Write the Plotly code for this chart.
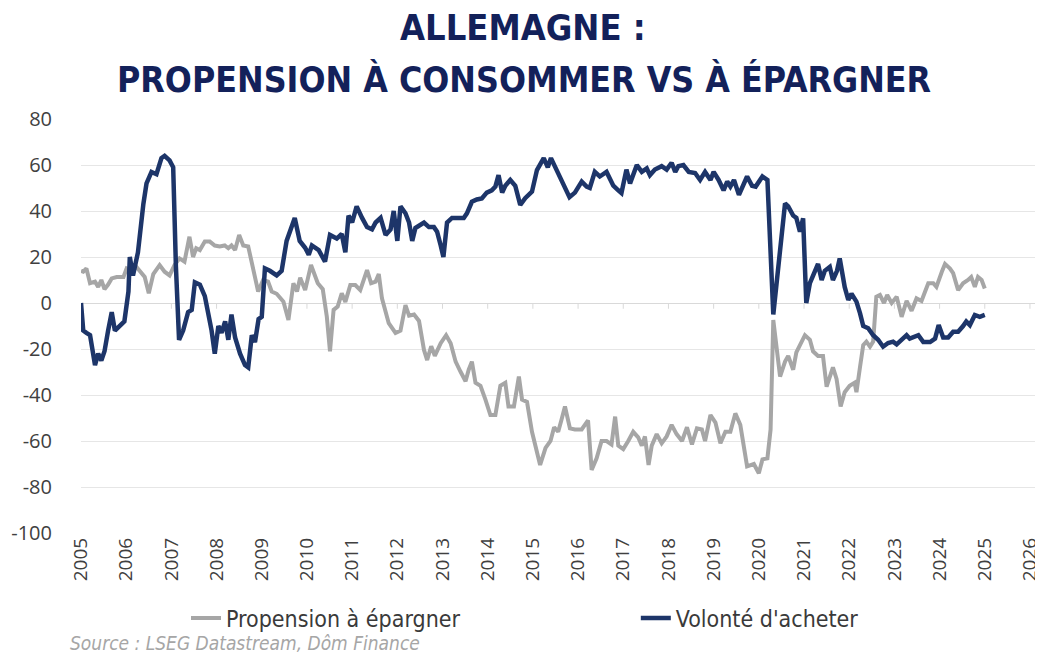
import plotly.graph_objects as go

# ---- Data (decimal years) ----
vol_x = [2005.00, 2005.05, 2005.12, 2005.20, 2005.31, 2005.38, 2005.45, 2005.52, 2005.60, 2005.68,
         2005.75, 2005.85, 2005.96, 2006.05, 2006.08, 2006.15, 2006.26, 2006.38, 2006.45, 2006.56,
         2006.67, 2006.78, 2006.85, 2006.96, 2007.04, 2007.10, 2007.17, 2007.26, 2007.37, 2007.45,
         2007.52, 2007.63, 2007.74, 2007.89, 2007.96, 2008.04, 2008.11, 2008.19, 2008.26, 2008.33,
         2008.41, 2008.52, 2008.63, 2008.70, 2008.78, 2008.85, 2008.93, 2009.00, 2009.07, 2009.18,
         2009.33, 2009.44, 2009.55, 2009.73, 2009.84, 2009.96, 2010.04, 2010.11, 2010.26, 2010.40,
         2010.51, 2010.66, 2010.77, 2010.85, 2010.92, 2011.00, 2011.10, 2011.22, 2011.33, 2011.44,
         2011.52, 2011.63, 2011.74, 2011.85, 2011.92, 2012.00, 2012.07, 2012.18, 2012.26, 2012.33,
         2012.40, 2012.59, 2012.70, 2012.81, 2012.88, 2012.96, 2013.02, 2013.10, 2013.21, 2013.32,
         2013.47, 2013.54, 2013.65, 2013.76, 2013.87, 2013.98, 2014.09, 2014.17, 2014.24, 2014.32,
         2014.39, 2014.50, 2014.61, 2014.72, 2014.83, 2014.98, 2015.09, 2015.24, 2015.33, 2015.40,
         2015.52, 2015.67, 2015.81, 2015.93, 2016.08, 2016.19, 2016.26, 2016.37, 2016.48, 2016.63,
         2016.78, 2016.89, 2016.96, 2017.07, 2017.15, 2017.30, 2017.41, 2017.52, 2017.59, 2017.70,
         2017.85, 2017.96, 2018.07, 2018.15, 2018.22, 2018.33, 2018.45, 2018.59, 2018.70, 2018.81,
         2018.93, 2019.00, 2019.11, 2019.22, 2019.30, 2019.37, 2019.45, 2019.56, 2019.63, 2019.74,
         2019.85, 2019.93, 2020.08, 2020.19, 2020.32, 2020.58, 2020.65, 2020.76, 2020.83, 2020.91,
         2020.98, 2021.05, 2021.13, 2021.24, 2021.31, 2021.39, 2021.46, 2021.57, 2021.64, 2021.73,
         2021.79, 2021.90, 2021.98, 2022.05, 2022.16, 2022.24, 2022.31, 2022.42, 2022.53, 2022.64,
         2022.75, 2022.86, 2022.97, 2023.05, 2023.16, 2023.27, 2023.34, 2023.42, 2023.53, 2023.64,
         2023.79, 2023.90, 2023.98, 2024.08, 2024.19, 2024.30, 2024.41, 2024.52, 2024.59, 2024.67,
         2024.78, 2024.89, 2025.00]
vol_y = [0, -12, -13, -14, -27, -22, -25, -21, -12, -4,
         -12, -10, -8, 5, 20, 12, 22, 43, 52, 57,
         56, 63, 64, 62, 59, 16, -16, -12, -4, -3,
         9, 8, 3, -12, -22, -10, -13, -8, -16, -5,
         -15, -22, -27, -28, -14, -17, -7, -6, 15, 14,
         12, 14, 27, 37, 27, 24, 21, 25, 23, 18,
         29.6, 28, 30, 22, 38, 35, 42, 37, 33, 32,
         35, 37, 29.6, 32, 40, 27, 42, 39, 35, 27,
         32.6, 35, 33, 33, 31, 25, 20, 35, 37, 37,
         37, 39, 44, 45, 45.5, 48, 49, 50.6, 55.6, 48,
         51, 53.5, 51, 42.6, 45.6, 48.4, 57.8, 63, 59, 63,
         58, 52, 46, 48, 52.8, 50.6, 50, 57, 55, 57,
         51, 49, 47.8, 58, 52, 60, 57, 58.5, 55.6, 58,
         59.5, 58, 61, 57, 59.5, 60, 57, 56.5, 53.5, 57,
         53.5, 57, 53.5, 49, 52.8, 50.6, 53.5, 47, 50, 55,
         51, 50.6, 55, 53.5, -5, 43.3, 42, 38, 37, 31,
         36.8, 0, 8.6, 14.3, 17, 10, 14, 15.7, 10, 14,
         19.4, 7, 1.3, 4, 0.6, -4.5, -10, -11, -14, -16,
         -19, -17.4, -16.8, -18, -16, -14, -15.5, -15, -14, -17,
         -17, -15.5, -9.6, -15, -15, -12.5, -12.5, -10, -8, -9.6,
         -5.2, -6, -5.2]

epa_x = [2005.00, 2005.05, 2005.12, 2005.20, 2005.31, 2005.38, 2005.45, 2005.52, 2005.60, 2005.68,
         2005.79, 2005.94, 2006.01, 2006.08, 2006.19, 2006.30, 2006.41, 2006.50, 2006.60, 2006.74,
         2006.85, 2006.96, 2007.07, 2007.18, 2007.29, 2007.40, 2007.48, 2007.55, 2007.63, 2007.74,
         2007.85, 2007.96, 2008.07, 2008.18, 2008.26, 2008.33, 2008.41, 2008.50, 2008.59, 2008.70,
         2008.81, 2008.92, 2009.03, 2009.14, 2009.22, 2009.33, 2009.48, 2009.59, 2009.70, 2009.78,
         2009.85, 2009.96, 2010.09, 2010.24, 2010.35, 2010.44, 2010.51, 2010.59, 2010.68, 2010.77,
         2010.85, 2010.96, 2011.07, 2011.18, 2011.33, 2011.42, 2011.52, 2011.59, 2011.66, 2011.81,
         2011.96, 2012.07, 2012.18, 2012.26, 2012.37, 2012.48, 2012.59, 2012.66, 2012.75, 2012.83,
         2012.96, 2013.08, 2013.18, 2013.29, 2013.40, 2013.51, 2013.58, 2013.65, 2013.73, 2013.84,
         2013.95, 2014.06, 2014.17, 2014.28, 2014.39, 2014.46, 2014.58, 2014.69, 2014.76, 2014.87,
         2014.98, 2015.09, 2015.16, 2015.28, 2015.39, 2015.47, 2015.56, 2015.63, 2015.71, 2015.82,
         2015.93, 2016.08, 2016.22, 2016.30, 2016.41, 2016.52, 2016.63, 2016.74, 2016.82, 2016.89,
         2017.00, 2017.11, 2017.22, 2017.33, 2017.41, 2017.48, 2017.56, 2017.63, 2017.74, 2017.85,
         2017.96, 2018.07, 2018.18, 2018.30, 2018.41, 2018.52, 2018.63, 2018.74, 2018.81, 2018.93,
         2019.04, 2019.15, 2019.26, 2019.37, 2019.48, 2019.59, 2019.74, 2019.89, 2020.00, 2020.08,
         2020.19, 2020.26, 2020.32, 2020.47, 2020.58, 2020.65, 2020.76, 2020.83, 2020.94, 2021.02,
         2021.13, 2021.20, 2021.31, 2021.42, 2021.50, 2021.64, 2021.72, 2021.81, 2021.90, 2022.01,
         2022.12, 2022.16, 2022.24, 2022.31, 2022.38, 2022.46, 2022.53, 2022.60, 2022.68, 2022.77,
         2022.84, 2022.94, 2023.05, 2023.16, 2023.27, 2023.38, 2023.49, 2023.60, 2023.68, 2023.75,
         2023.86, 2023.93, 2024.05, 2024.12, 2024.23, 2024.30, 2024.41, 2024.52, 2024.63, 2024.70,
         2024.78, 2024.85, 2024.93, 2025.00]
epa_y = [14, 13.6, 15, 8.6, 9.3, 7, 10, 6, 8, 10.7,
         11.3, 11.3, 15, 14.4, 16.5, 13.6, 11.3, 4.2, 12.6, 16.5,
         13.6, 12, 16.5, 19.4, 18, 28.8, 20, 23.8, 23, 26.7,
         26.7, 25, 24.6, 25, 23.8, 25, 23, 29.6, 25, 24.6,
         15, 5, 10, 9.3, 5, 4, 0.6, -7.4, 8.6, 5,
         11, 5.6, 16.5, 8.6, 6, -6, -21, -3, -1.6, 4.2,
         0.5, 7.8, 7.8, 5.6, 14.3, 8.6, 9.3, 12.6, 2, -8.8,
         -13, -12, -0.9, -5.5, -5, -7.8, -20.4, -24.8, -18.8, -23,
         -17.5, -14, -17.5, -25.5, -29.9, -34, -29, -25.5, -34.7, -36,
         -42, -48.7, -48.7, -36, -34.7, -45, -45, -32, -42, -43,
         -56, -65, -70.4, -63, -60, -54, -56, -51, -45, -54.5,
         -55, -55, -51, -72.6, -67.5, -60, -60, -61.5, -49.4, -62,
         -63.5, -60, -56, -58.4, -62, -58, -70.4, -62, -57, -61,
         -58, -53, -57, -60, -54, -61.5, -54.5, -55, -60, -48.7,
         -52, -61, -56, -56, -48, -53, -71, -70, -74, -68,
         -67.5, -55, -7.4, -32, -25.5, -23, -29, -21.5, -16.8, -14,
         -16, -21, -23, -23, -36.4, -28, -33, -45, -38.8, -36,
         -34.7, -38.8, -27.7, -18.3, -16.8, -19, -16.8, 2.7, 3.5, 0,
         3.5, 0, 2.7, -6, 0.9, -3.4, 2, 0.9, 5, 8.6,
         8.6, 7, 13.6, 17, 15, 13, 5.6, 8.6, 10, 11.3,
         7, 11.3, 10, 6.3]

years = list(range(2005, 2027))
year_labels = [str(y) for y in years]
y_ticks = list(range(-100, 81, 20))
y_labels = [str(v) for v in y_ticks]  # plain hyphen-minus as in the reference

NAME_EPA = "Propension à épargner"
NAME_VOL = "Volonté d'acheter"
TITLE_1 = "ALLEMAGNE :"
TITLE_2 = "PROPENSION À CONSOMMER VS À ÉPARGNER"
SOURCE = "Source : LSEG Datastream, Dôm Finance"

NAVY = "#13215a"
BLUE = "#1d3569"
GREY = "#a6a6a6"
COND = "DejaVu Sans Condensed, Liberation Sans Narrow, Roboto, sans-serif"

# The page body has an 8px default margin, so the figure is drawn 8px in from the
# window's top-left corner; the figure is sized to fill the rest of the window.
OFF = 8
W, H = 1043 - OFF, 653 - OFF
ML, MR, MT, MB = 81 - OFF, 4, 119 - OFF, 120
PW, PH = W - ML - MR, H - MT - MB


def px(x_page):
    return (x_page - OFF - ML) / PW


def py(y_page):
    return (H - (y_page - OFF) - MB) / PH


# non-breaking spaces after the first legend label reproduce the wide gap between entries
fig = go.Figure()
fig.add_trace(go.Scatter(x=epa_x, y=epa_y, mode="lines", name=NAME_EPA + "\u00a0" * 26,
                         line=dict(color=GREY, width=4)))
fig.add_trace(go.Scatter(x=vol_x, y=vol_y, mode="lines", name=NAME_VOL,
                         line=dict(color=BLUE, width=4.5)))

# small tick marks along the zero line (category axis crossing at 0)
for yv in years:
    fig.add_shape(type="line", x0=yv, x1=yv, y0=0, y1=-2.5, xref="x", yref="y",
                  line=dict(color="#d9d9d9", width=1), layer="below")

fig.update_layout(
    width=W, height=H,
    margin=dict(l=ML, r=MR, t=MT, b=MB, autoexpand=False),
    paper_bgcolor="white", plot_bgcolor="white",
    showlegend=True,
    legend=dict(orientation="h", x=px(186), xanchor="left", y=py(618), yanchor="middle",
                font=dict(family=COND, size=23, color="#3a3a3a"),
                itemwidth=30, traceorder="normal"),
    annotations=[
        dict(text="<b>" + TITLE_1 + "</b>", x=px(523), y=py(28), xref="paper", yref="paper",
             xanchor="center", yanchor="middle", showarrow=False,
             font=dict(family=COND, size=36, color=NAVY)),
        dict(text="<b>" + TITLE_2 + "</b>", x=px(524), y=py(79), xref="paper", yref="paper",
             xanchor="center", yanchor="middle", showarrow=False,
             font=dict(family=COND, size=35.4, color=NAVY)),
        dict(text="<i>" + SOURCE + "</i>", x=px(68), y=py(643), xref="paper", yref="paper",
             xanchor="left", yanchor="middle", showarrow=False,
             font=dict(family=COND, size=19, color="#a6a6a6")),
    ],
)

fig.update_xaxes(range=[2005, 2026.2], tickvals=years, ticktext=year_labels, tickangle=-90,
                 showgrid=False, zeroline=False, showline=False, ticks="", automargin=False,
                 tickfont=dict(family="Open Sans, sans-serif", size=19, color="#404040"))
fig.update_yaxes(range=[-100, 80], tickvals=y_ticks, ticktext=y_labels, showgrid=True,
                 gridcolor="#e6e6e6", gridwidth=1, zeroline=True, zerolinecolor="#d9d9d9",
                 zerolinewidth=1, ticks="", ticklabelstandoff=28, automargin=False,
                 tickfont=dict(family="Open Sans, sans-serif", size=20, color="#404040"))

fig.write_html("out.html")
